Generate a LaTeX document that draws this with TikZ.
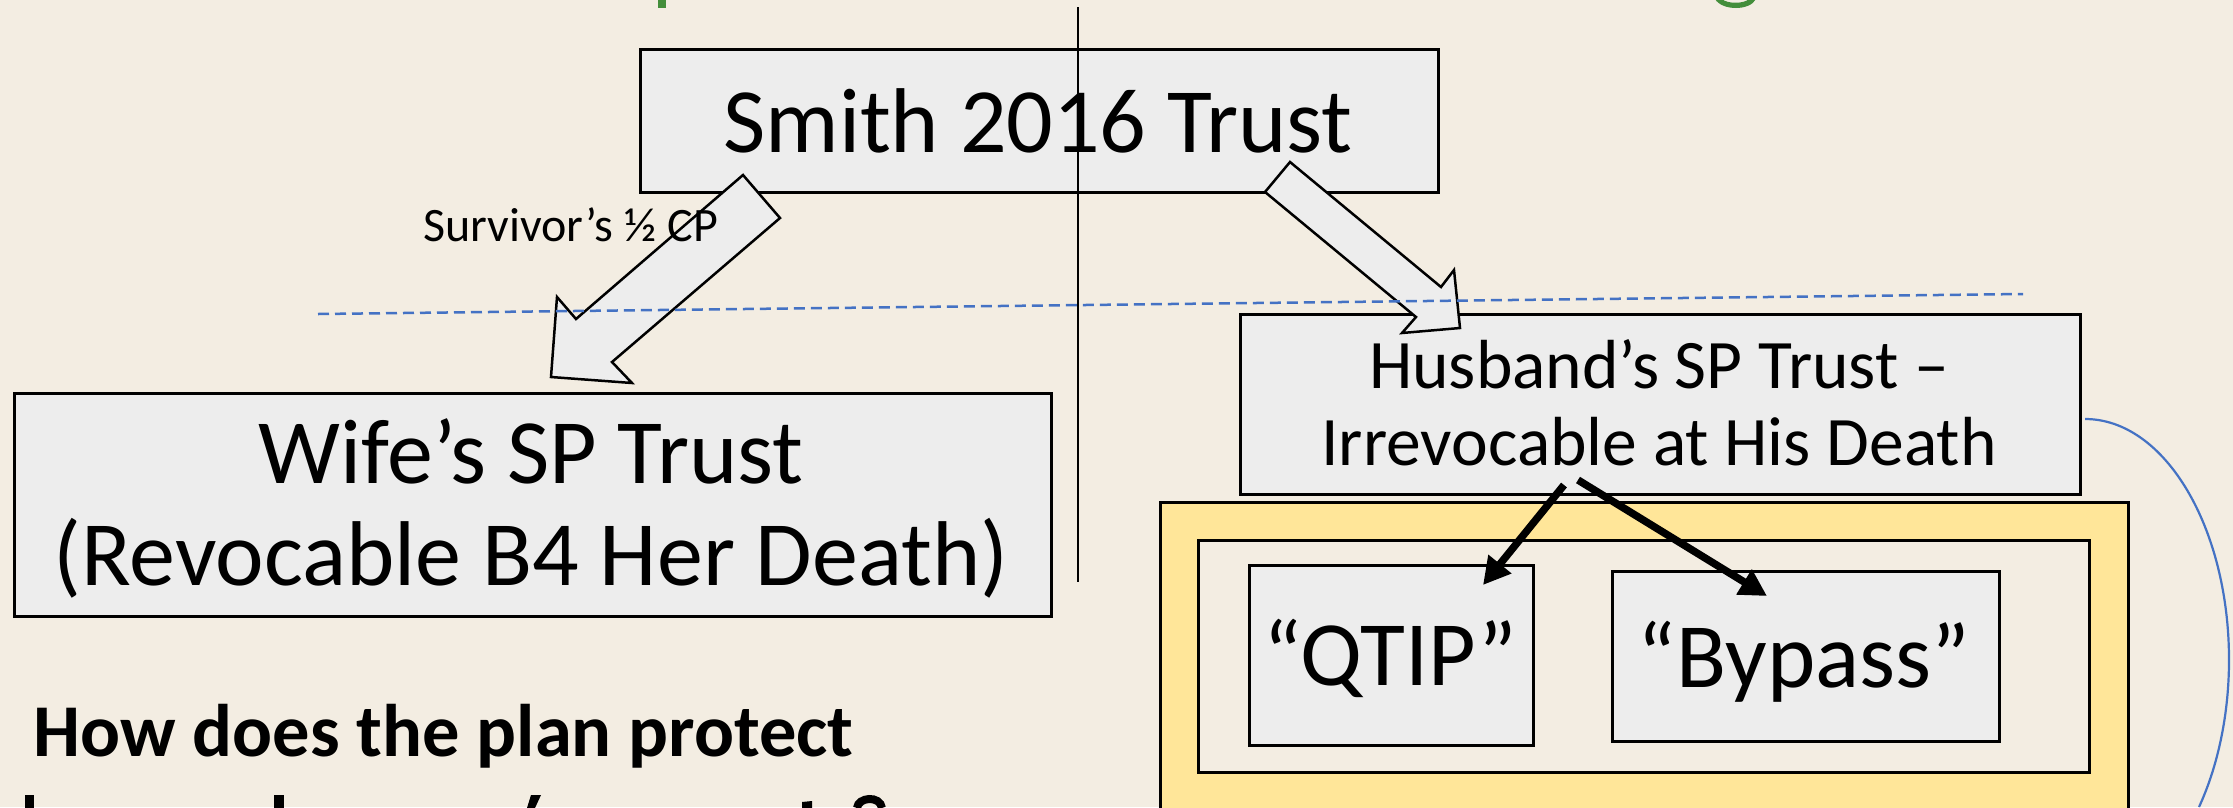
\documentclass[tikz,border=0pt]{standalone}
\usepackage{fontspec}
\setmainfont{Carlito}
\usetikzlibrary{arrows.meta}
\definecolor{slidebg}{HTML}{F3EDE2}
\definecolor{boxgray}{HTML}{EDEDED}
\definecolor{panel}{HTML}{FFE699}
\definecolor{linkblue}{HTML}{4472C4}
\definecolor{titlegreen}{HTML}{438E3B}
\newcommand\fsz[1]{\fontsize{#1}{#1}\selectfont}

\begin{document}
\begin{tikzpicture}[x=1pt,y=-1pt,
  trustbox/.style={draw=black, line width=2.5pt, fill=boxgray, inner sep=0pt, anchor=north west},
  framebox/.style={draw=black, line width=2.5pt, inner sep=0pt, anchor=north west},
  caption/.style={inner sep=0pt, anchor=base},
  blockarrow/.style={draw=black, line width=2.5pt, fill=boxgray, line join=miter},
  splitarrow/.style={line width=7.5pt, -{Triangle[length=27pt,width=28pt]}},
  divider/.style={draw=linkblue, line width=2.5pt, dash pattern=on 11pt off 6pt},
]
% page
\fill[slidebg] (0,0) rectangle (2233,807);
\useasboundingbox (0,0) rectangle (2233,807);
\clip (0,0) rectangle (2233,807);

% lower edge of the green heading
\fill[titlegreen] (658,-1) rectangle (666,8);
\fill[titlegreen] (1715,-1) .. controls (1722,11) and (1750,11) .. (1756,-1)
  -- (1749,-1) .. controls (1744,4) and (1727,4) .. (1722,-1) -- cycle;

% top trust
\node[trustbox, minimum width=798pt, minimum height=143pt] (smith) at (639,48) {};
\node[caption, font=\fsz{92}] (smithtxt) at (1038,152) {Smith 2016 Trust};

% centre divider
\coordinate (divtop) at (1078,7);
\coordinate (divbot) at (1078,582);
\draw[line width=1.5pt] (divtop) -- (divbot);

% wife's trust
\node[trustbox, minimum width=1037pt, minimum height=223pt] (wife) at (13,392) {};
\node[caption, font=\fsz{92}] at (531,483) {Wife’s SP Trust};
\node[caption, font=\fsz{92}] at (531,585) {(Revocable B4 Her Death)};

% husband's trust
\node[trustbox, minimum width=840pt, minimum height=180pt] (husband) at (1239,313) {};
\node[caption, font=\fsz{69.5}] at (1659,388) {Husband’s SP Trust –};
\node[caption, font=\fsz{69.5}] at (1659,465) {Irrevocable at His Death};

% sub-trusts
\node[framebox, fill=panel, minimum width=968pt, minimum height=400pt] (panel) at (1159,501) {};
\node[framebox, fill=slidebg, minimum width=891pt, minimum height=232pt] (inner) at (1197,539) {};
\node[trustbox, minimum width=284pt, minimum height=180pt] (qtip) at (1248,564) {};
\node[caption, font=\fsz{92}] at (1390,685) {“QTIP”};
\node[trustbox, minimum width=387pt, minimum height=170pt] (bypass) at (1611,570) {};
\node[caption, font=\fsz{92}] at (1804,687) {“Bypass”};

% block arrows out of the top trust
\draw[blockarrow] (743,175) -- (780,218) -- (612,362) -- (632,383)
  -- (551,377) -- (557,297) -- (576,319) -- cycle;
\draw[blockarrow] (1290,162) -- (1441,287) -- (1454,270) -- (1460,328)
  -- (1402,333) -- (1416,317) -- (1265,192) -- cycle;
\node[inner sep=0pt, anchor=base west, font=\fsz{48}] (survivor) at (423,241) {Survivor’s ½ CP};

% dashed separation line
\coordinate (dashL) at (318,314);
\coordinate (dashR) at (2023,294);
\draw[divider] (dashL) -- (dashR);

% split into the two sub-trusts
\coordinate (splitA) at (1564,485);
\coordinate (splitB) at (1578,480);
\coordinate (qtipin) at (1483,585);
\coordinate (bypassin) at (1767,596);
\draw[splitarrow] (splitA) -- (qtipin);
\draw[splitarrow] (splitB) -- (bypassin);

% loop from the husband's trust
\coordinate (loopstart) at (2085,419);
\coordinate (loopmid) at (2229,660);
\coordinate (loopend) at (2199,807);
\draw[linkblue, line width=2.2pt] (loopstart) .. controls (2164.5,419) and (2229,527) .. (loopmid)
  .. controls (2229,713) and (2218.4,764.9) .. (loopend);

% question
\node[inner sep=0pt, anchor=base west, font=\bfseries\fsz{74.5}] (question) at (33,756) {How does the plan protect};
% tops of the next line, cut by the page edge
\fill (25,795) rectangle (34,808);
\fill (274,795) rectangle (284,808);
\fill (531,795) -- (541,795) -- (535,808) -- (527,808) -- cycle;
\fill (802,802) -- (812,801) -- (812,808) -- (802,808) -- cycle;
\draw[line width=8pt] (857,808) .. controls (858,797) and (880,795) .. (882,808);
\end{tikzpicture}
\end{document}
